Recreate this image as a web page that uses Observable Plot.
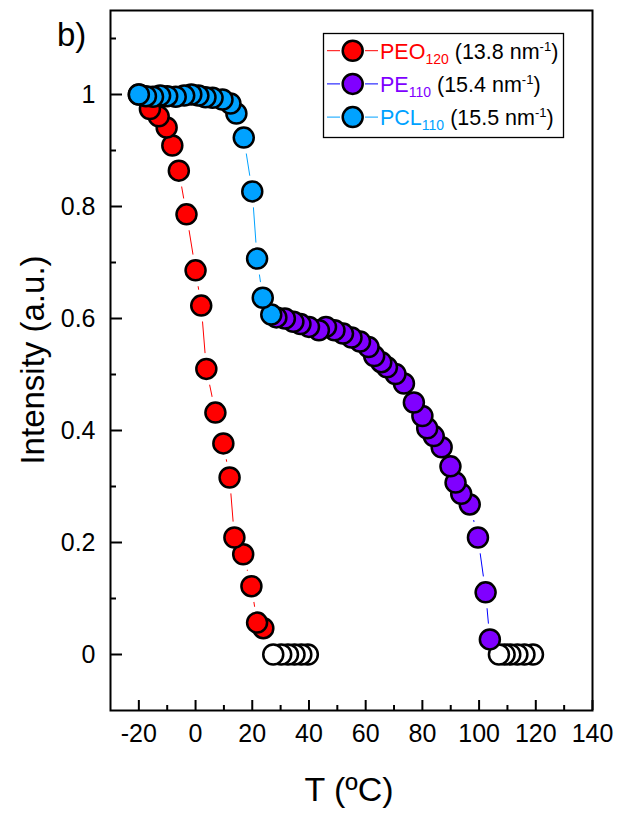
<!DOCTYPE html>
<html>
<head>
<meta charset="utf-8">
<script src="https://cdn.jsdelivr.net/npm/d3@7"></script>
<script src="https://cdn.jsdelivr.net/npm/@observablehq/plot@0.6"></script>
<style>
  html, body { margin: 0; padding: 0; background: #fff; }
  svg { display: block; }
</style>
</head>
<body>
<div id="chart"></div>
<script>
// Normalised SAXS/WAXS peak intensity versus temperature on cooling.

// PEO (120) reflection, 13.8 nm^-1
const peoT = [-20, -16.1, -13, -10.2, -8.2, -5.9, -3.2, 0, 2, 3.8, 7, 9.8, 12, 13.7, 16.8, 19.7, 21.7, 23.9];
const peoI = [1.0, 0.974, 0.961, 0.941, 0.909, 0.864, 0.786, 0.686, 0.623, 0.510, 0.432, 0.377, 0.316, 0.209, 0.179, 0.122, 0.057, 0.047];

// PE (110) reflection, 15.4 nm^-1
const peT = [28.5, 31.5, 34.5, 37, 40, 43.5, 46, 49, 52, 55, 58, 61, 63, 65.5, 67.5, 70.5, 73.5, 77, 80, 81.7, 84, 86.8, 89.9, 91.7, 93.7, 96.7, 99.6, 102.3, 103.8];
const peI = [0.602, 0.600, 0.594, 0.590, 0.585, 0.579, 0.585, 0.579, 0.573, 0.566, 0.559, 0.549, 0.533, 0.522, 0.513, 0.501, 0.484, 0.450, 0.426, 0.404, 0.390, 0.370, 0.336, 0.307, 0.287, 0.268, 0.209, 0.111, 0.027];

// PCL (110) reflection, 15.5 nm^-1
const pclT = [-20, -17.5, -15, -12.5, -10, -7, -4, -1.5, 1, 3.5, 6, 9.5, 12.3, 14.4, 17, 20, 21.7, 23.7, 26.7];
const pclI = [1.0, 0.997, 0.996, 0.998, 0.997, 0.996, 0.998, 1.0, 0.998, 0.995, 0.994, 0.991, 0.984, 0.966, 0.923, 0.827, 0.707, 0.637, 0.607];

// Temperatures where the reflection has vanished (open symbols, intensity 0)
const peoZeroT = [27.4, 30.2, 32.6, 34.9, 37.3, 39.6];
const peZeroT = [107, 109, 111, 113.5, 116, 119];

// Legend text
const seriesNames = ["PEO", "PE", "PCL"];
const seriesSubs = ["120", "110", "110"];
const seriesQ = ["13.8", "15.4", "15.5"];

// Axis ticks
const xTicks = [-20, 0, 20, 40, 60, 80, 100, 120, 140];
const xMinorTicks = [-10, 10, 30, 50, 70, 90, 110, 130];
const yTicks = [0, 0.2, 0.4, 0.6, 0.8, 1];
const yMinorTicks = [0.1, 0.3, 0.5, 0.7, 0.9, 1.1];

const FONT = "'Liberation Sans', Arial, Helvetica, sans-serif";
const W = 620, H = 819;
const M = {top: 10, right: 28, bottom: 109, left: 110};
const plotW = W - M.left - M.right;
const plotH = H - M.top - M.bottom;

const fills = ["#ff0000", "#8000ff", "#00a2ff"];
const lineColors = ["#ff0000", "#0000ff", "#00a2ff"];

const toRows = (T, I) => T.map((t, i) => ({t, v: I[i]}));
const peo = toRows(peoT, peoI);
const pe = toRows(peT, peI);
const pcl = toRows(pclT, pclI);
const zeros = [...peoZeroT, ...peZeroT].map(t => ({t, v: 0}));
// symbols are stacked in cooling order: the colder point sits on top
const desc = rows => rows.slice().sort((a, b) => b.t - a.t);

const R = 10, SW = 2.5, HALO = 16;
const dotOpts = (fill) => ({x: "t", y: "v", r: R, fill, stroke: "black", strokeWidth: SW});
const haloOpts = {x: "t", y: "v", r: HALO, fill: "white", stroke: "none"};
const tickOpts = {stroke: "black", strokeWidth: 2};

const svg = Plot.plot({
  width: W,
  height: H,
  marginTop: M.top,
  marginRight: M.right,
  marginBottom: M.bottom,
  marginLeft: M.left,
  style: {fontFamily: FONT, background: "white", color: "black", overflow: "visible"},
  x: {domain: [-30, 140]},
  y: {domain: [-0.1, 1.15]},
  marks: [
    // connecting lines
    Plot.line(peo, {x: "t", y: "v", stroke: lineColors[0], strokeWidth: 1}),
    Plot.line(pe, {x: "t", y: "v", stroke: lineColors[1], strokeWidth: 1}),
    Plot.line(pcl, {x: "t", y: "v", stroke: lineColors[2], strokeWidth: 1}),
    // gap between line and symbols
    Plot.dot(peo, haloOpts),
    Plot.dot(pe, haloOpts),
    Plot.dot(pcl, haloOpts),
    // symbols
    Plot.dot(desc(zeros), dotOpts("white")),
    Plot.dot(desc(peo), dotOpts(fills[0])),
    Plot.dot(desc(pe), dotOpts(fills[1])),
    Plot.dot(desc(pcl), dotOpts(fills[2])),
    // inward ticks
    Plot.ruleY(yTicks, {y: d => d, insetRight: plotW - 12, ...tickOpts}),
    Plot.ruleY(yMinorTicks, {y: d => d, insetRight: plotW - 6, ...tickOpts}),
    Plot.ruleX(xTicks, {x: d => d, insetTop: plotH - 10, ...tickOpts}),
    Plot.ruleX(xMinorTicks, {x: d => d, insetTop: plotH - 5, ...tickOpts}),
    // tick labels
    Plot.axisX({ticks: xTicks, tickFormat: d => String(d), tickSize: 0, tickPadding: 14, fontSize: 25, label: null}),
    Plot.axisY({ticks: yTicks, tickFormat: d => String(+d.toFixed(1)), tickSize: 0, tickPadding: 15, fontSize: 25, label: null}),
    Plot.frame({stroke: "black", strokeWidth: 2})
  ]
});

const root = d3.select(svg);

// axis titles and panel tag
root.append("text")
  .attr("x", (M.left + W - M.right) / 2 - 2)
  .attr("y", 801)
  .attr("text-anchor", "middle")
  .attr("font-family", FONT)
  .attr("font-size", 34)
  .attr("fill", "black")
  .text("T (ºC)");

root.append("text")
  .attr("transform", `translate(44, ${M.top + plotH / 2}) rotate(-90)`)
  .attr("text-anchor", "middle")
  .attr("font-family", FONT)
  .attr("font-size", 33)
  .attr("fill", "black")
  .text("Intensity (a.u.)");

root.append("text")
  .attr("x", 57)
  .attr("y", 46)
  .attr("text-anchor", "start")
  .attr("font-family", FONT)
  .attr("font-size", 33)
  .attr("fill", "black")
  .text("b)");

// legend
const leg = root.append("g").attr("font-family", FONT).attr("text-anchor", "start");
leg.append("rect")
  .attr("x", 323.5).attr("y", 33.5)
  .attr("width", 240).attr("height", 104)
  .attr("fill", "white").attr("stroke", "black").attr("stroke-width", 1.3);

seriesNames.forEach((name, i) => {
  const cy = 50.7 + i * 33.2;
  const g = leg.append("g");
  g.append("line").attr("x1", 327).attr("x2", 340).attr("y1", cy).attr("y2", cy)
    .attr("stroke", lineColors[i]).attr("stroke-width", 1);
  g.append("line").attr("x1", 365).attr("x2", 378).attr("y1", cy).attr("y2", cy)
    .attr("stroke", lineColors[i]).attr("stroke-width", 1);
  g.append("circle").attr("cx", 352.7).attr("cy", cy).attr("r", R)
    .attr("fill", fills[i]).attr("stroke", "black").attr("stroke-width", SW);
  const t = g.append("text").attr("x", 380).attr("y", cy + 7.8)
    .attr("text-anchor", "start").attr("font-size", 21.5).attr("fill", "black");
  t.append("tspan").attr("fill", fills[i]).text(name);
  t.append("tspan").attr("fill", fills[i]).attr("font-size", 14).attr("dy", 5).text(seriesSubs[i]);
  t.append("tspan").attr("dy", -5).text(` (${seriesQ[i]} nm`);
  t.append("tspan").attr("font-size", 13).attr("dy", -8).text("-1");
  t.append("tspan").attr("dy", 8).text(")");
});

document.getElementById("chart").appendChild(svg);
</script>
</body>
</html>
